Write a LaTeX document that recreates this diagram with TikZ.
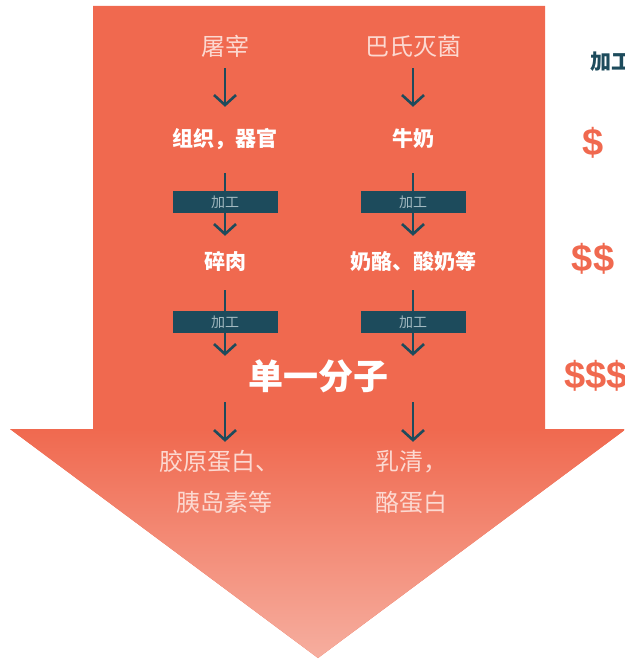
\documentclass[tikz,border=0pt]{standalone}
\usepackage{fontspec}
\setmainfont{Noto Sans CJK SC}
\newfontfamily\dollarfont{Liberation Sans}
\usetikzlibrary{arrows.meta}
\definecolor{coral}{HTML}{F0694F}
\definecolor{coralLight}{HTML}{F6AE9F}
\definecolor{tealdark}{HTML}{1D4B5C}
\definecolor{boxtext}{HTML}{A3BAC1}
\definecolor{thintext}{HTML}{FCD9D1}
\tikzset{
  lighttxt/.style={text=thintext, font=\fontsize{24}{24}\selectfont, inner sep=0pt, text height=20pt, text depth=4pt},
  boldtxt/.style={text=white, font=\bfseries\fontsize{21}{21}\selectfont, inner sep=0pt, text height=17.5pt, text depth=3.5pt},
  bigtxt/.style={text=white, font=\bfseries\fontsize{35}{35}\selectfont, inner sep=0pt, text height=29pt, text depth=6pt},
  procbox/.style={fill=tealdark, minimum width=105pt, minimum height=22pt, inner sep=0pt, text=boxtext, font=\fontsize{14}{14}\selectfont},
  flow/.style={draw=tealdark, line width=2.6pt, -{Straight Barb[length=10pt,width=22pt]}},
  price/.style={text=coral, font=\dollarfont\bfseries\fontsize{38}{38}\selectfont, inner sep=0pt},
  sidehead/.style={text=tealdark, font=\bfseries\fontsize{21}{21}\selectfont, inner sep=0pt, anchor=west},
}
\begin{document}
\begin{tikzpicture}[x=1pt,y=-1pt]
\useasboundingbox (0,0) rectangle (624,660);
\clip (0,0) rectangle (624,660);
% big arrow
\fill[coral] (93,6) -- (545,6) -- (545,429) -- (626,429) -- (318,658) -- (10,429) -- (93,429) -- cycle;
\shade[top color=coral, bottom color=coralLight] (10,429) -- (626,429) -- (318,658) -- cycle;

% left column
\node[lighttxt] (t1) at (225,48) {屠宰};
\node[boldtxt] (a1) at (225,140) {组织，器官};
\node[boldtxt] (b1) at (225,262) {碎肉};
% right column
\node[lighttxt] (t2) at (413,48) {巴氏灭菌};
\node[boldtxt] (a2) at (413,140) {牛奶};
\node[boldtxt] (b2) at (413,262) {奶酪、酸奶等};
% centre
\node[bigtxt] (c) at (318,378) {单一分子};
% results
\node[lighttxt] (d1) at (219,462) {胶原蛋白、};
\node[lighttxt] (e1) at (224,503) {胰岛素等};
\node[lighttxt] (d2) at (411,462) {乳清，};
\node[lighttxt] (e2) at (411,503) {酪蛋白};

% connectors
\draw[flow, shorten <=8pt, shorten >=22.5pt] (t1) -- (a1);
\draw[flow, shorten <=8pt, shorten >=22.5pt] (t2) -- (a2);
\draw[flow, shorten <=22.5pt, shorten >=15.5pt] (a1) -- (b1);
\draw[flow, shorten <=22.5pt, shorten >=15.5pt] (a2) -- (b2);
\draw[flow, shorten <=17.5pt, shorten >=4.5pt] (b1) -- (b1 |- c.north);
\draw[flow, shorten <=17.5pt, shorten >=4.5pt] (b2) -- (b2 |- c.north);
\draw[flow, shorten <=6.5pt, shorten >=8pt] (b1 |- c.south) -- (b1 |- d1.north);
\draw[flow, shorten <=6.5pt, shorten >=8pt] (b2 |- c.south) -- (b2 |- d2.north);

% process boxes
\node[procbox] (p1) at (225,202) {加工};
\node[procbox] (p2) at (413,202) {加工};
\node[procbox] (p3) at (225,322) {加工};
\node[procbox] (p4) at (413,322) {加工};

% price side
\node[sidehead] (h) at (590,62) {加工};
\node[price] (s1) at (593,143) {\$};
\node[price] (s2) at (593,259) {\$\$};
\node[price, anchor=west] (s3) at (564,376) {\$\$\$};
\end{tikzpicture}
\end{document}
